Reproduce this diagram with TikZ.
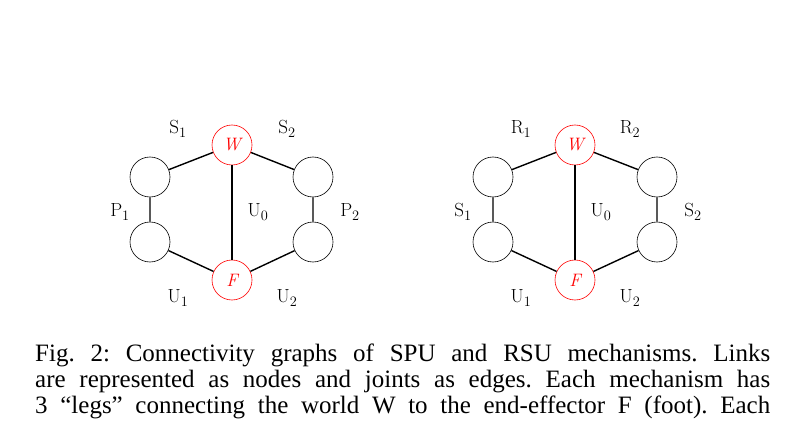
\documentclass[tikz,border=0pt]{standalone}
\usepackage{fontspec}
\newfontfamily\capfont{Liberation Serif}
\begin{document}
\frenchspacing
\begin{tikzpicture}[x=1pt,y=-1pt,
  lk/.style={circle,draw,fill=white,minimum size=40pt,inner sep=0pt,line width=0.6pt},
  rk/.style={lk,draw=red,text=red,font=\fontsize{18}{18}\selectfont\itshape},
  ed/.style={line width=1.4pt},
  lb/.style={font=\fontsize{19}{19}\selectfont}]
\useasboundingbox (0,0) rectangle (805,422);
\clip (0,0) rectangle (805,422);
% left graph
\node[lk] (la1) at (150,177) {};
\node[lk] (la2) at (150,242) {};
\node[rk] (lw) at (232,145) {W};
\node[rk] (lf) at (232,280) {F};
\node[lk] (lb1) at (313,177) {};
\node[lk] (lb2) at (313,242) {};
\draw[ed] (la1) -- (lw) -- (lb1) -- (lb2) -- (lf) -- (la2) -- (la1);
\draw[ed] (lw) -- (lf);
\node[lb] (ls1) at (178,129) {S$_1$};
\node[lb] (ls2) at (287,129) {S$_2$};
\node[lb] (lp1) at (120,212) {P$_1$};
\node[lb] (lp2) at (350,212) {P$_2$};
\node[lb] (lu0) at (258,212) {U$_0$};
\node[lb] (lu1) at (178,298) {U$_1$};
\node[lb] (lu2) at (287,298) {U$_2$};
% right graph
\node[lk] (ra1) at (493,177) {};
\node[lk] (ra2) at (493,242) {};
\node[rk] (rw) at (575,145) {W};
\node[rk] (rf) at (575,280) {F};
\node[lk] (rb1) at (657,177) {};
\node[lk] (rb2) at (657,242) {};
\draw[ed] (ra1) -- (rw) -- (rb1) -- (rb2) -- (rf) -- (ra2) -- (ra1);
\draw[ed] (rw) -- (rf);
\node[lb] (rr1) at (521,129) {R$_1$};
\node[lb] (rr2) at (630,129) {R$_2$};
\node[lb] (rs1) at (463,212) {S$_1$};
\node[lb] (rs2) at (693,212) {S$_2$};
\node[lb] (ru0) at (601,212) {U$_0$};
\node[lb] (ru1) at (521,298) {U$_1$};
\node[lb] (ru2) at (630,298) {U$_2$};
% caption
\begin{scope}[every node/.style={anchor=base west,inner sep=0pt,font=\capfont\fontsize{25}{26}\selectfont}]
\node (c1) at (35,361) {\hbox to 735pt{Fig.\ 2: Connectivity graphs of SPU and RSU mechanisms. Links}};
\node (c2) at (35,387) {\hbox to 735pt{are represented as nodes and joints as edges. Each mechanism has}};
\node (c3) at (35,413) {\hbox to 735pt{3 “legs” connecting the world W to the end-effector F (foot). Each}};
\end{scope}
\end{tikzpicture}
\end{document}
